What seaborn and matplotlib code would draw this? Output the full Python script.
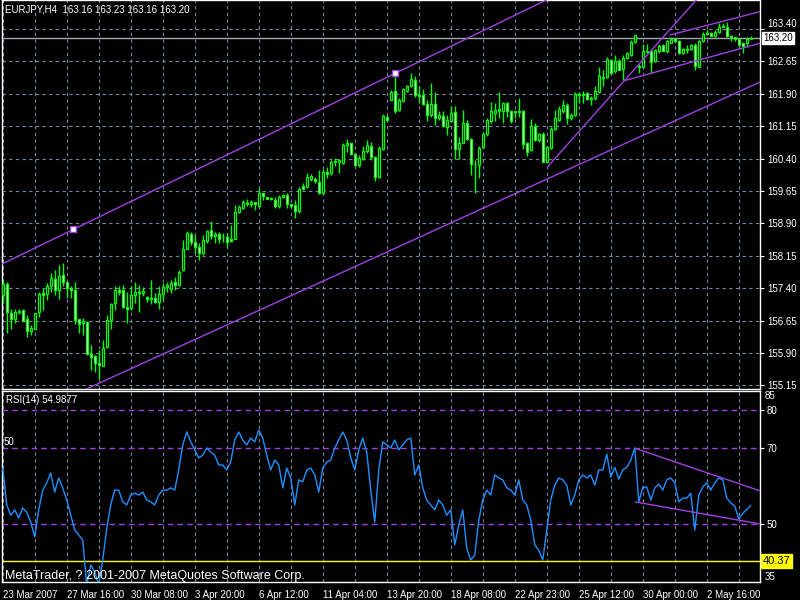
import matplotlib
matplotlib.use("Agg")
import numpy as np
import pandas as pd
import matplotlib.pyplot as plt
import matplotlib.transforms as mtransforms
import seaborn as sns

# ---- data (EURJPY, H4) ----
title_text = "EURJPY,H4  163.16 163.23 163.16 163.20"
opens = [157.25, 157.49, 156.82, 156.68, 156.84, 156.89, 156.68, 156.42, 156.46, 156.84,
         157.28, 157.27, 157.44, 157.61, 157.35, 157.70, 157.54, 157.40, 157.36, 156.68,
         156.60, 156.61, 155.88, 155.82, 155.66, 155.61, 156.03, 156.66, 157.05, 157.36,
         157.36, 156.97, 156.94, 157.24, 157.31, 157.28, 157.19, 157.15, 157.17, 157.08,
         157.26, 157.42, 157.38, 157.54, 157.47, 157.81, 158.31, 158.65, 158.46, 158.36,
         158.21, 158.50, 158.75, 158.60, 158.65, 158.58, 158.58, 158.55, 158.55, 159.17,
         159.26, 159.38, 159.36, 159.40, 159.30, 159.60, 159.50, 159.48, 159.44, 159.30,
         159.50, 159.55, 159.34, 159.32, 159.19, 159.77, 159.75, 159.92, 159.92, 159.85,
         159.60, 160.10, 160.06, 160.31, 160.33, 160.29, 160.72, 160.75, 160.51, 160.25,
         160.39, 160.58, 160.69, 160.43, 159.98, 160.63, 161.36, 161.76, 161.97, 161.52,
         161.74, 161.97, 162.07, 162.22, 161.86, 161.87, 161.66, 161.41, 161.66, 161.35,
         161.39, 161.14, 161.28, 161.48, 160.61, 160.77, 161.22, 160.85, 160.27, 160.25,
         160.66, 160.96, 161.27, 161.46, 161.49, 161.51, 161.68, 161.50, 161.50, 161.48,
         161.50, 160.75, 160.60, 161.16, 160.83, 160.98, 160.31, 160.64, 161.08, 161.30,
         161.50, 161.64, 161.33, 161.41, 161.90, 161.88, 161.91, 161.78, 161.80, 161.93,
         162.28, 162.28, 162.67, 162.43, 162.66, 162.47, 162.72, 162.80, 163.10, 162.55,
         162.53, 162.89, 162.89, 162.66, 162.88, 163.03, 162.88, 163.08, 163.18, 163.11,
         162.84, 162.93, 162.93, 163.03, 162.53, 163.11, 163.29, 163.31, 163.24, 163.32,
         163.45, 163.44, 163.24, 163.21, 163.17, 163.08, 163.08, 163.16]
highs = [157.60, 157.55, 156.91, 156.91, 156.91, 156.91, 156.78, 156.55, 156.83, 157.32,
         157.40, 157.52, 157.75, 157.82, 157.94, 157.99, 157.55, 157.45, 157.54, 156.68,
         156.70, 156.63, 156.09, 155.86, 155.97, 156.20, 156.78, 157.05, 157.45, 157.44,
         157.48, 157.32, 157.45, 157.55, 157.48, 157.42, 157.22, 157.59, 157.28, 157.45,
         157.52, 157.55, 157.58, 157.65, 157.82, 158.52, 158.73, 158.71, 158.63, 158.44,
         158.63, 158.75, 158.96, 158.71, 158.71, 158.67, 158.67, 158.86, 159.33, 159.33,
         159.43, 159.47, 159.43, 159.40, 159.71, 159.60, 159.52, 159.52, 159.50, 159.56,
         159.58, 159.60, 159.35, 159.45, 159.75, 159.83, 160.06, 160.04, 159.98, 160.14,
         160.15, 160.20, 160.37, 160.42, 160.38, 160.75, 160.85, 160.77, 160.54, 160.48,
         160.68, 160.83, 160.78, 160.46, 160.68, 161.43, 161.42, 161.99, 162.37, 161.80,
         162.03, 162.10, 162.39, 162.31, 162.08, 162.00, 161.76, 162.16, 161.93, 161.49,
         161.50, 161.41, 161.62, 161.62, 160.91, 161.52, 161.29, 160.87, 160.37, 160.68,
         161.02, 161.33, 161.72, 161.68, 161.93, 161.72, 161.70, 161.52, 161.50, 161.80,
         161.52, 160.79, 161.31, 161.22, 161.00, 161.02, 160.68, 161.14, 161.52, 161.62,
         161.76, 161.68, 161.45, 161.95, 161.95, 161.97, 161.95, 161.85, 162.08, 162.53,
         162.45, 162.74, 162.68, 162.80, 162.70, 162.80, 162.87, 163.14, 163.26, 162.60,
         163.05, 163.05, 162.93, 162.93, 163.05, 163.06, 163.15, 163.22, 163.20, 163.15,
         162.95, 163.03, 163.05, 163.07, 163.14, 163.34, 163.38, 163.33, 163.38, 163.53,
         163.53, 163.57, 163.26, 163.22, 163.18, 163.10, 163.22, 163.23]
lows = [157.05, 156.37, 156.46, 156.60, 156.80, 156.63, 156.28, 156.32, 156.45, 156.74,
        156.90, 157.13, 157.32, 157.25, 157.15, 157.45, 157.17, 157.17, 156.57, 156.36,
        156.32, 155.85, 155.51, 155.47, 155.31, 155.60, 156.01, 156.46, 156.90, 157.25,
        156.94, 156.60, 156.90, 157.05, 156.84, 157.21, 157.09, 157.03, 157.05, 156.91,
        157.13, 157.32, 157.30, 157.36, 157.44, 157.79, 158.30, 158.40, 158.21, 158.05,
        158.17, 158.44, 158.53, 158.44, 158.44, 158.48, 158.36, 158.48, 158.54, 159.13,
        159.23, 159.30, 159.29, 159.20, 159.28, 159.44, 159.46, 159.43, 159.25, 159.25,
        159.48, 159.25, 159.25, 159.02, 159.15, 159.67, 159.74, 159.89, 159.84, 159.58,
        159.58, 159.94, 160.02, 160.23, 160.07, 160.27, 160.56, 160.48, 160.23, 160.20,
        160.37, 160.52, 160.37, 159.87, 159.94, 160.60, 161.26, 161.75, 161.45, 161.50,
        161.72, 161.95, 162.05, 161.83, 161.68, 161.64, 161.28, 161.37, 161.18, 161.30,
        161.12, 160.95, 161.26, 160.38, 160.38, 160.75, 160.82, 160.02, 159.60, 159.94,
        160.64, 160.92, 161.23, 161.26, 161.33, 161.23, 161.37, 161.23, 161.33, 161.37,
        160.62, 160.45, 160.58, 160.81, 160.79, 160.31, 160.29, 160.62, 161.06, 161.26,
        161.45, 161.20, 161.29, 161.39, 161.68, 161.68, 161.76, 161.64, 161.76, 161.91,
        162.08, 162.26, 162.37, 162.37, 162.44, 162.22, 162.70, 162.77, 163.08, 162.37,
        162.52, 162.84, 162.37, 162.64, 162.85, 162.89, 162.85, 163.08, 163.10, 162.82,
        162.82, 162.85, 162.92, 162.45, 162.51, 163.09, 163.28, 163.23, 163.22, 163.30,
        163.45, 163.21, 163.13, 163.13, 163.01, 162.84, 162.99, 163.16]
closes = [157.49, 156.84, 156.68, 156.84, 156.88, 156.63, 156.42, 156.48, 156.82, 157.27,
          157.25, 157.45, 157.63, 157.35, 157.69, 157.55, 157.40, 157.35, 156.66, 156.57,
          156.63, 155.87, 155.80, 155.66, 155.62, 156.01, 156.66, 157.04, 157.36, 157.32,
          156.97, 156.91, 157.24, 157.31, 157.28, 157.34, 157.15, 157.18, 157.09, 157.26,
          157.42, 157.47, 157.52, 157.47, 157.78, 158.31, 158.67, 158.48, 158.36, 158.21,
          158.52, 158.72, 158.61, 158.65, 158.53, 158.58, 158.48, 158.50, 159.16, 159.27,
          159.40, 159.36, 159.40, 159.34, 159.60, 159.54, 159.47, 159.47, 159.30, 159.50,
          159.55, 159.34, 159.30, 159.18, 159.69, 159.69, 159.98, 159.99, 159.87, 159.60,
          160.10, 160.04, 160.31, 160.35, 160.37, 160.72, 160.75, 160.51, 160.25, 160.41,
          160.58, 160.72, 160.43, 159.98, 160.64, 161.39, 161.30, 161.95, 161.50, 161.76,
          162.00, 162.07, 162.24, 161.86, 161.84, 161.66, 161.41, 161.66, 161.35, 161.41,
          161.15, 161.29, 161.46, 160.63, 160.77, 161.23, 160.85, 160.27, 160.27, 160.64,
          160.98, 161.29, 161.49, 161.52, 161.55, 161.68, 161.49, 161.28, 161.48, 161.50,
          160.74, 160.56, 161.16, 160.83, 160.97, 160.33, 160.66, 161.08, 161.33, 161.55,
          161.64, 161.33, 161.42, 161.90, 161.88, 161.90, 161.78, 161.81, 161.96, 162.31,
          162.26, 162.70, 162.39, 162.66, 162.45, 162.72, 162.84, 163.10, 163.26, 162.52,
          162.89, 162.86, 162.64, 162.91, 163.01, 162.90, 163.11, 163.17, 163.11, 162.84,
          162.93, 162.92, 163.03, 162.55, 163.11, 163.28, 163.31, 163.24, 163.32, 163.45,
          163.47, 163.24, 163.22, 163.17, 163.03, 163.01, 163.16, 163.20]
rsi = [64.8, 55.1, 52.4, 53.8, 51.7, 54.3, 53.2, 50.6, 46.7, 53.8,
       59.0, 60.9, 63.5, 58.5, 62.2, 59.6, 56.4, 52.4, 48.5, 47.2,
       45.9, 34.0, 39.3, 37.5, 34.0, 40.6, 48.9, 55.1, 59.0, 59.0,
       55.9, 55.1, 57.7, 58.2, 57.7, 58.5, 56.4, 55.9, 55.1, 57.7,
       59.0, 59.0, 59.6, 59.0, 64.3, 70.9, 74.3, 71.7, 69.6, 67.5,
       68.2, 70.1, 69.0, 68.2, 65.6, 65.6, 64.3, 66.4, 72.2, 74.3,
       72.2, 70.9, 72.7, 71.7, 74.8, 72.7, 68.2, 64.3, 66.9, 65.6,
       59.6, 64.8, 62.2, 55.1, 61.7, 61.2, 64.3, 64.8, 63.0, 58.5,
       64.8, 66.4, 66.9, 70.1, 72.2, 74.3, 72.2, 67.5, 64.3, 69.6,
       72.7, 69.0, 59.0, 50.6, 64.3, 71.7, 70.9, 70.1, 72.2, 69.6,
       70.9, 72.2, 72.7, 63.0, 65.6, 59.6, 56.4, 55.1, 53.8, 56.4,
       55.1, 52.4, 53.8, 44.6, 49.8, 53.8, 43.7, 40.6, 41.9, 51.1,
       56.4, 59.0, 57.7, 63.0, 62.2, 61.7, 59.6, 59.0, 57.7, 61.7,
       56.4, 55.1, 51.1, 44.6, 43.2, 40.6, 48.5, 56.4, 60.3, 62.2,
       61.7, 60.3, 55.1, 57.7, 61.7, 63.0, 62.2, 63.0, 60.3, 64.3,
       64.3, 68.5, 62.4, 65.0, 61.9, 64.3, 65.0, 66.9, 70.1, 55.9,
       59.8, 59.8, 56.4, 59.6, 60.6, 59.0, 61.7, 62.2, 60.9, 55.9,
       56.9, 56.9, 58.2, 48.5, 57.7, 59.8, 60.9, 59.0, 60.9, 62.2,
       61.7, 56.9, 55.6, 54.8, 51.4, 52.9, 53.9, 55.0]

date_ticks = [0, 16, 32, 48, 64, 80, 96, 112, 128, 144, 160, 176]
date_labels = ["23 Mar 2007", "27 Mar 16:00", "30 Mar 08:00", "3 Apr 20:00",
               "6 Apr 12:00", "11 Apr 04:00", "13 Apr 20:00", "18 Apr 08:00",
               "22 Apr 23:00", "25 Apr 12:00", "30 Apr 00:00", "2 May 16:00"]
price_ticks = [155.15, 155.90, 156.65, 157.40, 158.15, 158.90,
               159.65, 160.40, 161.15, 161.90, 162.65, 163.40]
rsi_levels = [80, 70, 50]
rsi_label = "RSI(14) 54.9877"
bid = 163.20
rsi_hline = 40.37

# trendline anchors as (bar, value)
channel_top = [(17.65, 158.76), (98.15, 162.375)]
channel_bottom = [(25.83, 155.275), (189.33, 162.173)]
steep_ray = [(136.2, 160.21), (172.5, 163.98)]
wedge_top = [(166.8, 163.26), (189.3, 163.80)]
wedge_bottom = [(155.3, 162.20), (189.3, 163.07)]
rsi_top = [(158.1, 70.0), (189.3, 58.8)]
rsi_bottom = [(158.1, 55.9), (189.3, 50.1)]

df = pd.DataFrame({"open": opens, "high": highs, "low": lows, "close": closes, "rsi": rsi})
df["bar"] = np.arange(len(df))
df["bull"] = df["close"] >= df["open"]

sns.set_style("dark", {"axes.facecolor": "black", "figure.facecolor": "black"})
plt.rcParams["font.family"] = ["Liberation Sans", "DejaVu Sans"]

GREEN = "#00ff00"
PURPLE = "#a040e0"
GRIDC = "#778899"
XMIN, XMAX = -0.175, 189.3

fig = plt.figure(figsize=(8, 6), dpi=100, facecolor="black")
ax1 = fig.add_axes([2 / 800, 1 - 389 / 600, 758 / 800, 389 / 600])
ax2 = fig.add_axes([2 / 800, 1 - 582 / 600, 758 / 800, 191 / 600])

for ax in (ax1, ax2):
    ax.set_facecolor("black")
    ax.set_xlim(XMIN, XMAX)
    for s in ax.spines.values():
        s.set_color("white")
        s.set_linewidth(1)
    ax.set_xticks(np.arange(8, 190, 8), minor=True)
    ax.grid(True, which="both", axis="x", color=GRIDC, linestyle=(0, (3, 3)), linewidth=0.8)
    ax.set_axisbelow(True)
    ax.yaxis.tick_right()
    ax.tick_params(axis="y", colors="white", labelsize=7, length=3, pad=2, direction="out")
    ax.tick_params(axis="x", which="minor", length=0)

# ---- price panel ----
ax1.set_ylim(155.067, 164.07)
ax1.set_yticks(price_ticks)
ax1.set_yticklabels([f"{p:.2f}" for p in price_ticks])
ax1.grid(True, axis="y", color=GRIDC, linestyle=(0, (3, 3)), linewidth=0.8)
ax1.set_xticks(date_ticks)
ax1.tick_params(axis="x", which="major", length=0, labelbottom=False)
# top label sits a touch higher so it clears the bid box, as in the terminal
ax1.get_yticklabels()[-1].set_va("bottom")

ax1.vlines(df["bar"], df["low"], df["high"], color=GREEN, linewidth=1, zorder=3)
body_lo = np.minimum(df["open"], df["close"])
body_h = np.maximum((df["close"] - df["open"]).abs(), 0.004)
faces = np.where(df["bull"], "black", "white")
ax1.bar(df["bar"], body_h, bottom=body_lo, width=0.5, color=faces,
        edgecolor=GREEN, linewidth=0.9, zorder=4)

ax1.axhline(bid, color="#a0a8b0", linewidth=1, zorder=2)
ax1.text(1.004, bid, f"{bid:.2f}", transform=mtransforms.blended_transform_factory(ax1.transAxes, ax1.transData),
         ha="left", va="center", fontsize=7, color="black",
         bbox=dict(facecolor="white", edgecolor="white", pad=0.8), clip_on=False)

ax1.axline(channel_top[0], channel_top[1], color=PURPLE, linewidth=1, zorder=5)
ax1.axline(channel_bottom[0], channel_bottom[1], color=PURPLE, linewidth=1, zorder=5)
for line in (steep_ray, wedge_top, wedge_bottom):
    (x0, y0), (x1, y1) = line
    k = (y1 - y0) / (x1 - x0)
    ax1.plot([x0, XMAX], [y0, y0 + k * (XMAX - x0)], color=PURPLE, linewidth=1, zorder=5)
ax1.plot([p[0] for p in channel_top], [p[1] for p in channel_top], linestyle="none",
         marker="s", markersize=4, markerfacecolor="white", markeredgecolor=PURPLE,
         markeredgewidth=1, zorder=6)

# ---- RSI panel ----
ax2.set_ylim(34.82, 85.08)
ax2.set_yticks(rsi_levels)
ax2.set_yticklabels([str(v) for v in rsi_levels])
ax2.set_xticks(date_ticks)
ax2.set_xticklabels(date_labels)
ax2.tick_params(axis="x", which="major", colors="white", labelsize=7, length=4, pad=2)
for lbl in ax2.get_xticklabels():
    lbl.set_ha("left")
for lv in rsi_levels:
    ax2.axhline(lv, color=PURPLE, linestyle=(0, (4, 3)), linewidth=1, zorder=2)
ax2.axhline(rsi_hline, color="yellow", linewidth=1, zorder=2)
sns.lineplot(x=df["bar"], y=df["rsi"], ax=ax2, color="#1e90ff", linewidth=1, zorder=4)
ax2.set_xlabel("")
ax2.set_ylabel("")
for line in (rsi_top, rsi_bottom):
    ax2.plot([p[0] for p in line], [p[1] for p in line], color=PURPLE, linewidth=1, zorder=5)

tr2 = mtransforms.blended_transform_factory(ax2.transAxes, ax2.transData)
ax2.text(1.004, rsi_hline, f"{rsi_hline:.2f}", transform=tr2, ha="left", va="center",
         fontsize=8, color="black", bbox=dict(facecolor="yellow", edgecolor="yellow", pad=1.2),
         clip_on=False)
ax2.text(1.006, 1.0, "85", transform=ax2.transAxes, ha="left", va="top", fontsize=7, color="white")
ax2.text(1.006, 0.0, "35", transform=ax2.transAxes, ha="left", va="bottom", fontsize=7, color="white")

# ---- texts ----
fig.text(5 / 800, 1 - 10 / 600, title_text, ha="left", va="center", fontsize=7, color="white")
fig.text(6 / 800, 1 - 400 / 600, rsi_label, ha="left", va="center", fontsize=7, color="white")
fig.text(4 / 800, 1 - 442 / 600, "50", ha="left", va="center", fontsize=7, color="white")
fig.text(5 / 800, 1 - 576 / 600, "MetaTrader, ? 2001-2007 MetaQuotes Software Corp.",
         ha="left", va="center", fontsize=9, color="white")

fig.savefig("out.png", dpi=100, facecolor="black")
